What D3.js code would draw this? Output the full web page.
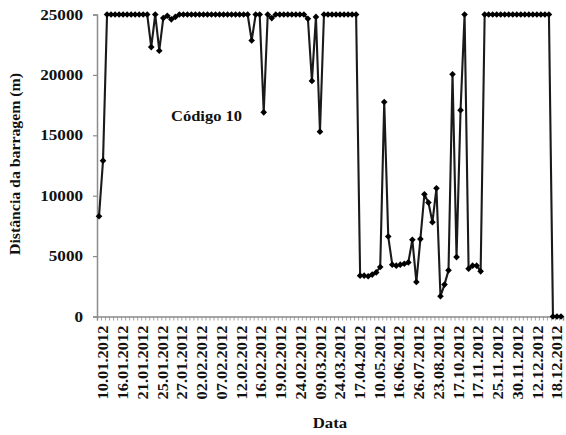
<!DOCTYPE html>
<html><head><meta charset="utf-8">
<script src="https://cdn.jsdelivr.net/npm/d3@7"></script>
<style>
body{margin:0;background:#fff}
svg text{font-family:"Liberation Serif","Times New Roman",serif;font-weight:bold;fill:#111}
</style>
</head><body><svg id="c" width="566" height="435"></svg>
<script>
// ---- data ----
const tickLabels = ["10.01.2012","16.01.2012","21.01.2012","25.01.2012","27.01.2012","02.02.2012",
  "07.02.2012","12.02.2012","16.02.2012","19.02.2012","24.02.2012","09.03.2012","24.03.2012",
  "17.04.2012","10.05.2012","16.06.2012","26.07.2012","23.08.2012","17.10.2012","17.11.2012",
  "25.11.2012","30.11.2012","12.12.2012","18.12.2012"];
const labelStep = 5;
const values = [
  8300,12900,
  25000,25000,25000,25000,25000,25000,25000,25000,25000,25000,25000,
  22300,25000,22000,24700,24900,24600,24800,
  25000,25000,25000,25000,25000,25000,25000,25000,25000,25000,25000,25000,25000,25000,25000,25000,25000,25000,
  22850,25000,25000,16900,25000,24700,
  25000,25000,25000,25000,25000,25000,25000,25000,
  24650,19500,24800,15300,
  25000,25000,25000,25000,25000,25000,25000,25000,25000,
  3380,3380,3330,3470,3650,4100,17760,6620,4290,4210,4290,4370,4480,6350,2860,6410,
  10120,9430,7810,10620,1680,2640,3820,20050,4920,17080,25000,3960,4210,4210,3740,
  25000,25000,25000,25000,25000,25000,25000,25000,25000,25000,25000,25000,25000,25000,25000,25000,25000,
  0,0,0
];
const yTicks = [0,5000,10000,15000,20000,25000];
const yTitle = "Distância da barragem (m)";
const xTitle = "Data";
const annotation = "Código 10";

// ---- layout ----
const svg = d3.select("#c");
const mLeft = 97, mRight = 563, mTop = 14.5, mBottom = 316.5;
const idx = d3.range(values.length);
const x = d3.scaleBand().domain(idx).range([mLeft, mRight]);
const xb = d3.scaleLinear().domain([0, values.length]).range([mLeft, mRight]);
const y = d3.scaleLinear().domain([0, 25000]).range([mBottom, mTop]);
const cx = i => x(i) + x.bandwidth() / 2;
const axisColor = "#8c8c8c";

function stretch(sel, k) {
  sel.each(function () {
    const w = this.getComputedTextLength();
    d3.select(this).attr("textLength", w * k).attr("lengthAdjust", "spacingAndGlyphs");
  });
}

// y axis
const gy = svg.append("g").attr("transform", `translate(${mLeft},0)`)
  .call(d3.axisLeft(y).tickValues(yTicks).tickSize(4).tickPadding(10).tickFormat(d3.format("d")));
gy.select(".domain").attr("stroke", axisColor).attr("stroke-width", 1.5);
gy.selectAll(".tick line").attr("stroke", axisColor).attr("stroke-width", 1.2);
gy.selectAll(".tick text").attr("font-size", 14.5).attr("fill", "#111")
  .style("font-family", '"Liberation Serif",serif').style("font-weight", "bold");
stretch(gy.selectAll(".tick text"), 1.18);

// x axis ticks (one per category boundary)
const gx = svg.append("g").attr("transform", `translate(0,${mBottom})`)
  .call(d3.axisBottom(xb).tickValues(d3.range(values.length + 1)).tickSize(4).tickFormat(""));
gx.select(".domain").attr("stroke", axisColor).attr("stroke-width", 1.5);
gx.selectAll(".tick line").attr("stroke", axisColor).attr("stroke-width", 0.8);

// x labels (placed on a label scale spanning the labelled categories)
const labelIdx = tickLabels.map((_, k) => k * labelStep);
const xl = d3.scaleLinear().domain([0, values.length - 1]).range([cx(0) + 4, cx(values.length - 1) - 4]);
const gl = svg.append("g").attr("transform", `translate(0,${mBottom})`)
  .call(d3.axisBottom(xl).tickValues(labelIdx).tickSize(0).tickFormat(i => tickLabels[i / labelStep]));
gl.select(".domain").remove();
gl.selectAll(".tick text")
  .attr("transform", "rotate(-90)")
  .attr("x", -9).attr("y", 0).attr("dy", "0.35em")
  .attr("text-anchor", "end")
  .attr("font-size", 14).attr("fill", "#111")
  .style("font-family", '"Liberation Serif",serif').style("font-weight", "bold");
gl.selectAll(".tick text").attr("textLength", 74).attr("lengthAdjust", "spacingAndGlyphs");

// line
svg.append("path").datum(values)
  .attr("fill", "none").attr("stroke", "#1a1a1a").attr("stroke-width", 2.1)
  .attr("stroke-linejoin", "round")
  .attr("d", d3.line().x((d, i) => cx(i)).y(d => y(d)));

// markers (diamonds)
svg.append("g").selectAll("path").data(values).join("path")
  .attr("d", d3.symbol(d3.symbolSquare, 22))
  .attr("transform", (d, i) => `translate(${cx(i)},${y(d)}) rotate(45)`)
  .attr("fill", "#000");

// titles
const yt = svg.append("text").attr("transform", "translate(19.5,164) rotate(-90)")
  .attr("text-anchor", "middle").attr("font-size", 14.5).text(yTitle);
yt.attr("textLength", 182).attr("lengthAdjust", "spacingAndGlyphs");
const xt = svg.append("text").attr("x", 330).attr("y", 428)
  .attr("text-anchor", "middle").attr("font-size", 15).text(xTitle);
stretch(xt, 1.12);
const an = svg.append("text").attr("x", 171).attr("y", 120.5)
  .attr("font-size", 14.5).text(annotation);
an.attr("textLength", 71).attr("lengthAdjust", "spacingAndGlyphs");
</script>
</body></html>
